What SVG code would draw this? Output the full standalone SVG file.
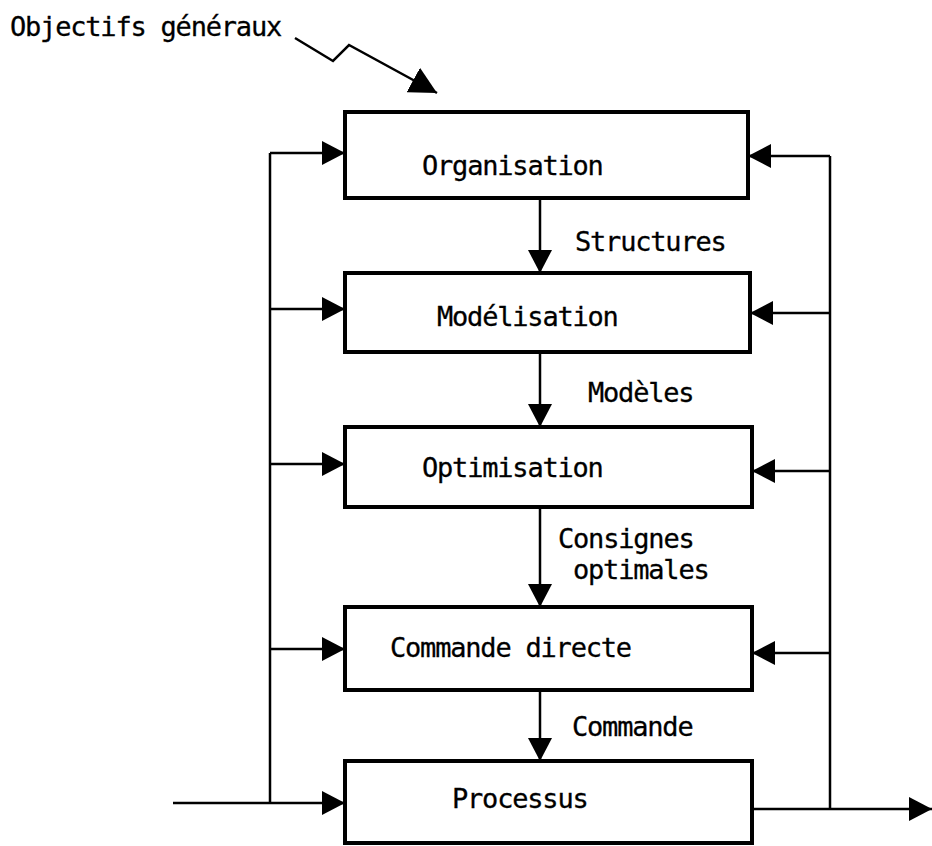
<svg xmlns="http://www.w3.org/2000/svg" width="932" height="846" viewBox="0 0 932 846">
<defs>
<style>
.box{fill:#fff;stroke:#000;stroke-width:4}
.ln{fill:none;stroke:#000;stroke-width:2.5}
.ar{marker-end:url(#ah)}
text{font-family:"DejaVu Sans Mono","Liberation Mono",monospace;font-size:27px;letter-spacing:-1.2px;fill:#000;stroke:#000;stroke-width:0.3}
</style>
<marker id="ah" markerUnits="userSpaceOnUse" markerWidth="24" markerHeight="24" viewBox="0 0 24 24" refX="23" refY="12" orient="auto">
<path d="M0,0 L23,12 L0,24 z" fill="#000"/>
</marker>
<marker id="ahb" markerUnits="userSpaceOnUse" markerWidth="28" markerHeight="28" viewBox="0 0 28 28" refX="27" refY="14" orient="auto">
<path d="M0,0 L27,14 L0,28 z" fill="#000"/>
</marker>
</defs>
<rect width="932" height="846" fill="#fff"/>
<g id="connectors">
<polyline class="ln" style="marker-end:url(#ahb)" points="295,38 333,61 349,45 437,93"/>
<line class="ln" x1="270" y1="153" x2="270" y2="803"/>
<line class="ln ar" x1="270" y1="153" x2="345" y2="153"/>
<line class="ln ar" x1="270" y1="309" x2="345" y2="309"/>
<line class="ln ar" x1="270" y1="464" x2="345" y2="464"/>
<line class="ln ar" x1="270" y1="649" x2="345" y2="649"/>
<line class="ln ar" x1="173" y1="803" x2="345" y2="803"/>
<line class="ln" x1="830" y1="156" x2="830" y2="809"/>
<line class="ln ar" x1="830" y1="156" x2="748" y2="156"/>
<line class="ln ar" x1="830" y1="313" x2="750" y2="313"/>
<line class="ln ar" x1="830" y1="471" x2="752" y2="471"/>
<line class="ln ar" x1="830" y1="653" x2="752" y2="653"/>
<line class="ln ar" x1="752" y1="809" x2="932" y2="809"/>
<line class="ln ar" x1="540" y1="198" x2="540" y2="273"/>
<line class="ln ar" x1="540" y1="352" x2="540" y2="427"/>
<line class="ln ar" x1="540" y1="507" x2="540" y2="607"/>
<line class="ln ar" x1="540" y1="690" x2="540" y2="761"/>
</g>
<g id="labels">
<text x="10" y="36">Objectifs généraux</text>
<text x="575" y="251">Structures</text>
<text x="588" y="402">Modèles</text>
<text x="558" y="548">Consignes</text>
<text x="573" y="579">optimales</text>
<text x="572" y="736">Commande</text>
</g>
<g id="organisation">
<rect class="box" x="345" y="112" width="403" height="86"/>
<text x="422" y="175">Organisation</text>
</g>
<g id="modelisation">
<rect class="box" x="345" y="273" width="405" height="79"/>
<text x="437" y="326">Modélisation</text>
</g>
<g id="optimisation">
<rect class="box" x="345" y="427" width="407" height="80"/>
<text x="422" y="477">Optimisation</text>
</g>
<g id="commande-directe">
<rect class="box" x="345" y="607" width="407" height="83"/>
<text x="390" y="657">Commande directe</text>
</g>
<g id="processus">
<rect class="box" x="345" y="761" width="407" height="82"/>
<text x="452" y="808">Processus</text>
</g>
</svg>
